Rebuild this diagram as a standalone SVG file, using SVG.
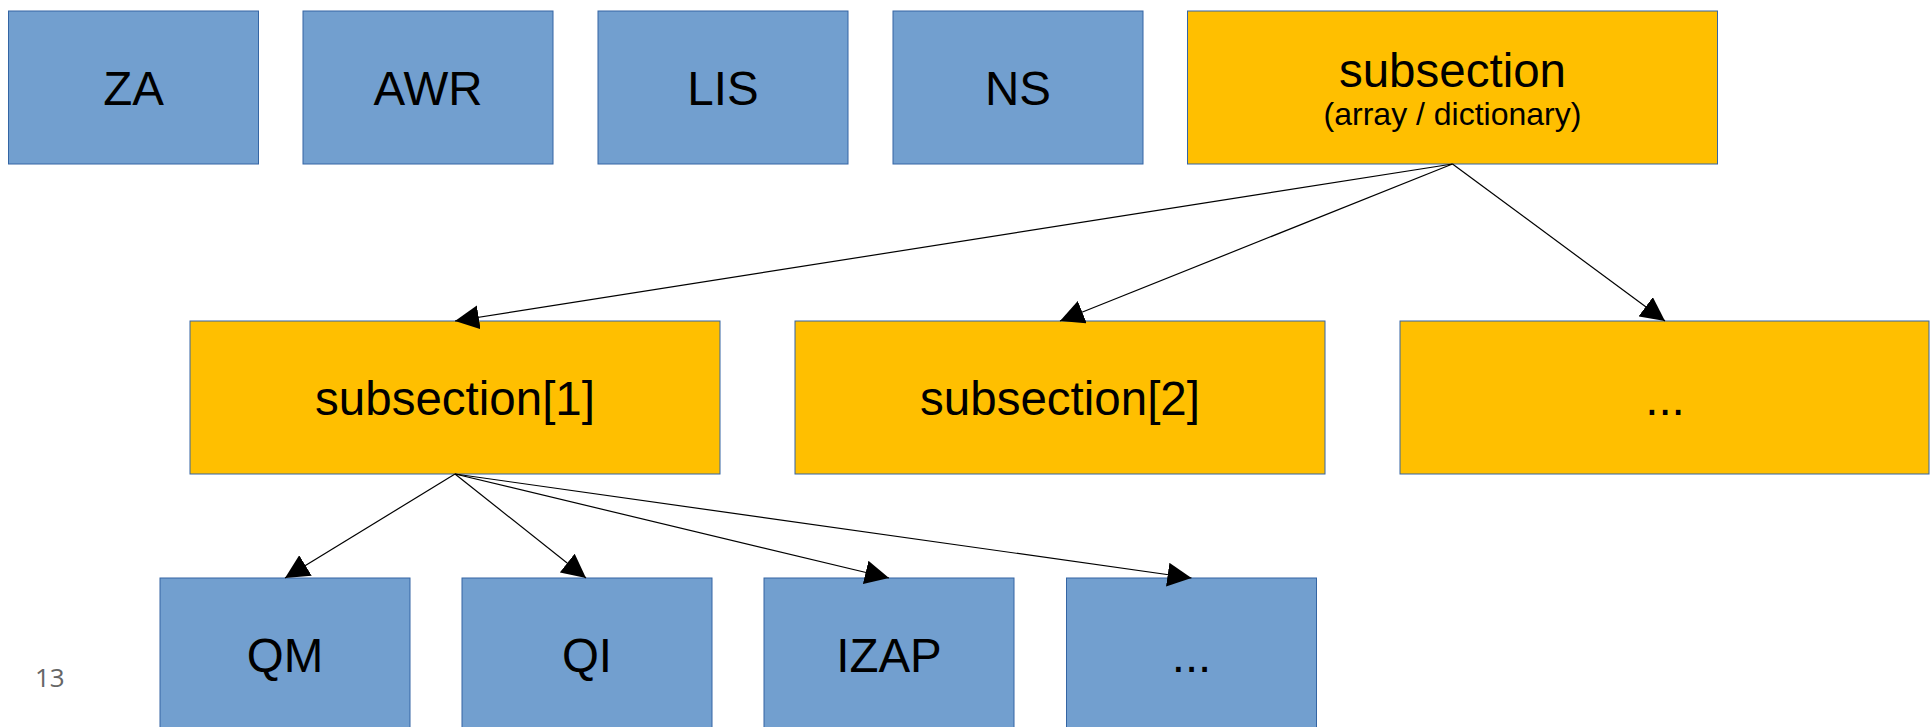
<svg xmlns="http://www.w3.org/2000/svg" width="1930" height="727" viewBox="0 0 1930 727">
<style>
.blue{fill:#729fcf;stroke:#3465a4;stroke-width:1}
.orange{fill:#ffbf00;stroke:#3465a4;stroke-width:1}
.lbl{font-family:"Liberation Sans",Arial,sans-serif;font-size:47.5px;fill:#000;text-anchor:middle}
.sub{font-family:"Liberation Sans",Arial,sans-serif;font-size:32px;fill:#000;text-anchor:middle}
.conn line{stroke:#000;stroke-width:1.2}
.pg{font-family:"Open Sans",sans-serif;font-size:26px;fill:#666}
</style>
<defs>
<marker id="arr" markerUnits="userSpaceOnUse" viewBox="0 0 24 24" markerWidth="24" markerHeight="24" refX="24" refY="12" orient="auto">
<path d="M0,0 L24,12 L0,24 z" fill="#000"/>
</marker>
</defs>
<rect width="1930" height="727" fill="#fff"/>
<g id="ZA"><rect class="blue" x="8.5" y="11" width="250" height="153"/><text class="lbl" x="133.5" y="104.5">ZA</text></g>
<g id="AWR"><rect class="blue" x="303" y="11" width="250" height="153"/><text class="lbl" x="428" y="104.5">AWR</text></g>
<g id="LIS"><rect class="blue" x="598" y="11" width="250" height="153"/><text class="lbl" x="723" y="104.5">LIS</text></g>
<g id="NS"><rect class="blue" x="893" y="11" width="250" height="153"/><text class="lbl" x="1018" y="104.5">NS</text></g>
<g id="subsection"><rect class="orange" x="1187.5" y="11" width="530" height="153"/><text class="lbl" x="1452.5" y="87">subsection</text><text class="sub" x="1452.5" y="125">(array / dictionary)</text></g>
<g id="subsection1"><rect class="orange" x="190" y="321" width="530" height="153"/><text class="lbl" x="455" y="415">subsection[1]</text></g>
<g id="subsection2"><rect class="orange" x="795" y="321" width="530" height="153"/><text class="lbl" x="1060" y="415">subsection[2]</text></g>
<g id="subsection-more"><rect class="orange" x="1400" y="321" width="529" height="153"/><text class="lbl" x="1665" y="415">...</text></g>
<g id="QM"><rect class="blue" x="160" y="578" width="250" height="153"/><text class="lbl" x="285" y="671.5">QM</text></g>
<g id="QI"><rect class="blue" x="462" y="578" width="250" height="153"/><text class="lbl" x="587" y="671.5">QI</text></g>
<g id="IZAP"><rect class="blue" x="764" y="578" width="250" height="153"/><text class="lbl" x="889" y="671.5">IZAP</text></g>
<g id="item-more"><rect class="blue" x="1066.5" y="578" width="250" height="153"/><text class="lbl" x="1191.5" y="671.5">...</text></g>
<g id="connectors" class="conn">
<line x1="1452.5" y1="164" x2="455" y2="321" marker-end="url(#arr)"/>
<line x1="1452.5" y1="164" x2="1060" y2="321" marker-end="url(#arr)"/>
<line x1="1452.5" y1="164" x2="1665" y2="321" marker-end="url(#arr)"/>
<line x1="455" y1="474" x2="285" y2="578" marker-end="url(#arr)"/>
<line x1="455" y1="474" x2="586" y2="578" marker-end="url(#arr)"/>
<line x1="455" y1="474" x2="889" y2="578" marker-end="url(#arr)"/>
<line x1="455" y1="474" x2="1191.5" y2="578" marker-end="url(#arr)"/>
</g>
<text class="pg" x="35" y="687">13</text>
</svg>
